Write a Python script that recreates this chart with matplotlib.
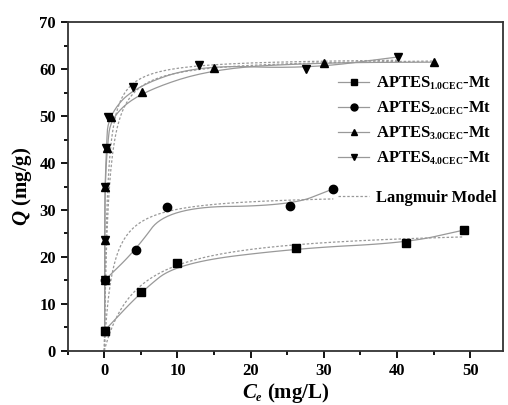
import numpy as np
import matplotlib
matplotlib.use('Agg')
import matplotlib.pyplot as plt
import matplotlib._mathtext as mt
from matplotlib.lines import Line2D
from matplotlib.ticker import MultipleLocator

plt.rcParams['font.family'] = 'Liberation Serif'
plt.rcParams['font.weight'] = 'bold'
plt.rcParams['mathtext.fontset'] = 'custom'
plt.rcParams['mathtext.rm'] = 'Liberation Serif:bold'
plt.rcParams['mathtext.bf'] = 'Liberation Serif:bold'
plt.rcParams['mathtext.it'] = 'Liberation Serif:bold:italic'
mt.SHRINK_FACTOR = 0.58  # subscritos menores, como no original

# Dados experimentais (Ce, Q)
ce_1 = [0.05, 5.0, 10.0, 26.2, 41.3, 49.1]
q_1 = [4.3, 12.5, 18.7, 21.8, 23.0, 25.7]
ce_2 = [0.05, 4.3, 8.6, 25.4, 31.3]
q_2 = [15.0, 21.5, 30.6, 30.9, 34.5]
ce_3 = [0.05, 0.05, 0.06, 0.1, 0.4, 0.9, 5.1, 15.0, 30.0, 45.1]
q_3 = [4.3, 15.0, 23.7, 35.0, 43.3, 49.8, 55.2, 60.2, 61.4, 61.5]
ce_4 = [0.05, 0.05, 0.06, 0.1, 0.3, 0.5, 3.9, 12.9, 27.6, 40.1]
q_4 = [4.3, 15.0, 23.7, 35.0, 43.3, 49.8, 56.1, 60.9, 60.1, 62.6]

labels = [r'APTES$_{\mathregular{1.0CEC}}$-Mt', r'APTES$_{\mathregular{2.0CEC}}$-Mt',
          r'APTES$_{\mathregular{3.0CEC}}$-Mt', r'APTES$_{\mathregular{4.0CEC}}$-Mt']
marcadores = ['s', 'o', '^', 'v']

# Parametros do modelo de Langmuir (Qm, K)
langmuir_qm = [26.5, 33.5, 62.5, 62.5]
langmuir_k = [0.22, 0.9, 1.8, 2.6]

COR_LINHA = '#999999'
TRACO = (0, (2, 1.5))


def suavizar(x, y, n=4):
    # Chaikin (B-spline quadratica) mantendo as extremidades
    pts = np.column_stack([x, y]).astype(float)
    for _ in range(n):
        novo = [pts[0]]
        for a, b in zip(pts[:-1], pts[1:]):
            novo.append(0.75 * a + 0.25 * b)
            novo.append(0.25 * a + 0.75 * b)
        novo.append(pts[-1])
        pts = np.array(novo)
    return pts[:, 0], pts[:, 1]


fig = plt.figure(figsize=(5.08, 4.05), dpi=100)
ax = fig.add_axes([0.1333, 0.134, 0.857, 0.811])

series = [(ce_1, q_1), (ce_2, q_2), (ce_3, q_3), (ce_4, q_4)]
for (ce, q), m, qm, k in zip(series, marcadores, langmuir_qm, langmuir_k):
    xs, ys = suavizar(ce, q)
    ax.plot(xs, ys, color=COR_LINHA, lw=0.9, zorder=2)
    c = np.linspace(0, max(ce), 400)
    ax.plot(c, qm * k * c / (1 + k * c), color=COR_LINHA, lw=0.9, ls=TRACO, zorder=2)
    ax.plot(ce, q, ls='none', marker=m, color='black', ms=6, zorder=3)

ax.set_xlim(-5, 54.5)
ax.set_ylim(0, 70)
ax.xaxis.set_major_locator(MultipleLocator(10))
ax.xaxis.set_minor_locator(MultipleLocator(5))
ax.yaxis.set_major_locator(MultipleLocator(10))
ax.yaxis.set_minor_locator(MultipleLocator(5))
ax.tick_params(which='both', direction='out', top=False, right=False, labelsize=12, width=1.3)
ax.tick_params(which='major', length=5)
ax.tick_params(which='minor', length=3)
for s in ax.spines.values():
    s.set_linewidth(1.3)
    s.set_color('#333333')

ax.set_xlabel(r'$\mathit{C_e}$ (mg/L)', fontsize=15, fontweight='bold', labelpad=2)
ax.set_ylabel(r'$\mathit{Q}$ (mg/g)', fontsize=15, fontweight='bold', labelpad=4)

handles = [Line2D([], [], color=COR_LINHA, lw=0.9, marker=m, mfc='black', mec='black', ms=5)
           for m in marcadores]
leg = ax.legend(handles, labels, loc='upper left', bbox_to_anchor=(0.605, 0.86),
                frameon=False, fontsize=12, handlelength=1.9, handletextpad=0.4,
                labelspacing=0.45, borderaxespad=0)
ax.add_artist(leg)
ax.legend([Line2D([], [], color=COR_LINHA, lw=0.9, ls=TRACO)], ['Langmuir Model'],
          loc='upper left', bbox_to_anchor=(0.605, 0.51), frameon=False, fontsize=12,
          handlelength=1.9, handletextpad=0.4, borderaxespad=0)

fig.savefig('out.png', dpi=100)
